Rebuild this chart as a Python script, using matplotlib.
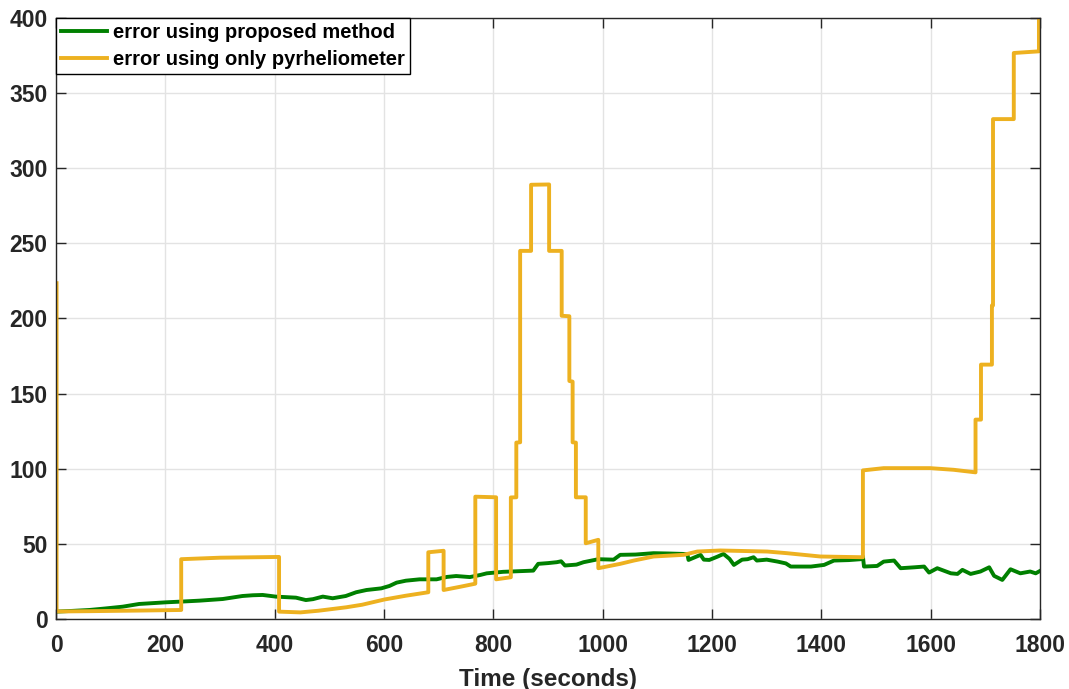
import numpy as np
import matplotlib
matplotlib.use('Agg')
import matplotlib.pyplot as plt

# Error of the proposed method (slowly drifting, noisy trace)
t_prop = [0, 30, 61, 90, 122, 152, 201, 230, 262, 305, 341, 360, 378, 402, 439, 457,
          470, 488, 506, 530, 549, 568, 595, 610, 623, 640, 665, 696, 715, 732, 757,
          776, 788, 818, 832, 873, 882, 900, 916, 924, 931, 952, 965, 992, 1020, 1032,
          1060, 1093, 1120, 1148, 1155, 1157, 1168, 1179, 1185, 1195, 1210, 1221, 1232,
          1240, 1255, 1265, 1276, 1282, 1300, 1320, 1335, 1344, 1381, 1405, 1423, 1450,
          1472, 1476, 1478, 1502, 1514, 1533, 1545, 1570, 1588, 1597, 1612, 1637, 1649,
          1658, 1673, 1691, 1707, 1716, 1731, 1746, 1764, 1782, 1792, 1800]
err_prop = [4.9, 5.4, 6.0, 7.0, 8.2, 10.0, 11.1, 11.6, 12.2, 13.3, 15.3, 15.8, 16.0, 14.9,
            14.2, 12.6, 13.2, 14.9, 13.8, 15.3, 17.8, 19.3, 20.4, 22.0, 24.2, 25.5, 26.4,
            26.4, 28.0, 28.6, 27.9, 29.3, 30.4, 31.4, 31.6, 32.2, 36.7, 37.2, 37.8, 38.4,
            35.6, 36.2, 37.8, 39.8, 39.5, 42.7, 42.9, 43.8, 43.6, 43.3, 43.0, 39.3, 41.0,
            42.7, 39.5, 39.3, 41.5, 43.3, 40.0, 36.0, 39.5, 39.8, 41.1, 38.9, 39.5, 38.2,
            37.0, 34.9, 34.9, 36.0, 38.9, 39.2, 39.8, 41.6, 34.9, 35.3, 38.2, 38.9, 33.8,
            34.4, 34.9, 30.9, 33.8, 30.4, 30.0, 32.7, 30.0, 31.6, 34.4, 28.7, 26.0, 33.1,
            30.4, 31.6, 30.4, 32.0]

# Error using only the pyrheliometer (piecewise constant with jumps)
t_pyr = [1, 1, 60, 150, 229, 229, 300, 408, 408, 447, 480, 531, 560, 601, 640, 681, 681,
         709, 709, 740, 767, 767, 805, 805, 832, 832, 842, 842, 849, 849, 869, 869, 902,
         902, 925, 925, 939, 939, 945, 945, 951, 951, 969, 969, 992, 992, 1032, 1057,
         1093, 1148, 1173, 1215, 1301, 1337, 1398, 1476, 1476, 1514, 1599, 1642, 1682,
         1682, 1692, 1692, 1712, 1712, 1714, 1714, 1752, 1752, 1798, 1798]
err_pyr = [223.5, 5.0, 5.2, 5.6, 6.0, 39.8, 40.8, 41.3, 4.9, 4.4, 5.5, 7.8, 9.5, 13.0,
           15.5, 17.8, 44.4, 45.4, 19.3, 21.5, 23.5, 81.4, 81.0, 26.4, 27.8, 80.9, 81.0,
           117.4, 117.6, 245.0, 245.0, 289.0, 289.2, 245.0, 245.0, 201.8, 201.5, 158.4,
           158.0, 117.6, 117.4, 81.0, 81.0, 50.4, 52.7, 33.8, 36.7, 38.9, 41.6, 42.7,
           44.9, 45.6, 44.9, 43.8, 41.6, 41.1, 98.9, 100.4, 100.4, 99.3, 97.6, 132.7,
           132.7, 169.3, 169.3, 208.7, 208.7, 332.7, 332.7, 376.7, 377.8, 420.0]

x_ticks = [0, 200, 400, 600, 800, 1000, 1200, 1400, 1600, 1800]
y_ticks = [0, 50, 100, 150, 200, 250, 300, 350, 400]

plt.rcParams['font.family'] = ['Liberation Sans', 'DejaVu Sans']
plt.rcParams['font.weight'] = 'bold'

dark = '#262626'

fig = plt.figure(figsize=(10.69, 6.89), dpi=100)
ax = fig.add_axes([0.0524, 0.1016, 0.9205, 0.8723])

ax.plot(t_prop, err_prop, color='#008000', lw=2.8, label='error using proposed method')
ax.plot(t_pyr, err_pyr, color='#EDB120', lw=2.8, label='error using only pyrheliometer')

ax.set_xlim(0, 1800)
ax.set_ylim(0, 400)
ax.set_xticks(x_ticks)
ax.set_yticks(y_ticks)
ax.grid(True, color='#e3e3e3', lw=1.0)
ax.set_axisbelow(True)

ax.tick_params(direction='in', length=7, width=1, colors=dark, labelsize=16.5,
               top=True, right=True)
ax.tick_params(axis='x', pad=10.5)
ax.tick_params(axis='y', pad=6)
for lbl in ax.get_xticklabels() + ax.get_yticklabels():
    lbl.set_fontweight('bold')
for sp in ax.spines.values():
    sp.set_color(dark)
    sp.set_linewidth(1.0)

ax.set_xlabel('Time (seconds)', fontsize=17.5, fontweight='bold', color=dark, labelpad=8)

leg = ax.legend(loc='upper left', borderaxespad=0, fontsize=14.5, handlelength=2.3,
                handletextpad=0.3, borderpad=0.25, labelspacing=0.4, fancybox=False,
                framealpha=1)
leg.get_frame().set_edgecolor('black')
leg.get_frame().set_linewidth(1.0)
for txt in leg.get_texts():
    txt.set_fontweight('bold')

fig.savefig('out.png', dpi=100)
